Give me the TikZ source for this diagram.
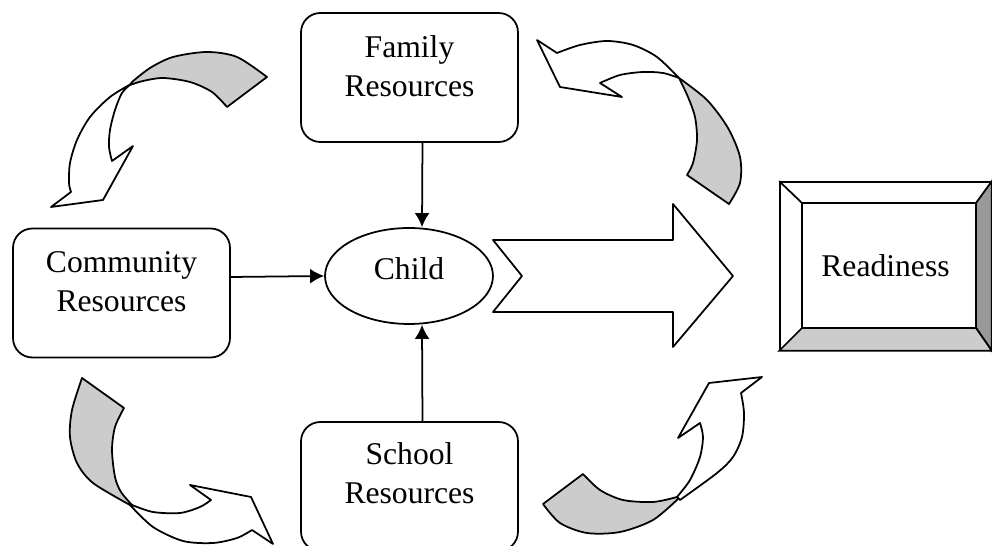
\documentclass[tikz,border=0pt]{standalone}
\usepackage{fontspec}
\setmainfont{Liberation Serif}
\usetikzlibrary{shapes, arrows.meta}

\begin{document}
\begin{tikzpicture}[x=0.02cm, y=-0.02cm,
  resbox/.style={draw, line width=1pt, rounded corners=11pt, minimum width=4.34cm, minimum height=2.58cm},
  restext/.style={align=center, inner sep=0pt, font=\fontsize{18}{22}\selectfont},
  link/.style={->, line width=1pt, >={Latex[length=8pt,width=8.5pt]}},
  turn/.style={draw, line width=1pt, line join=round, fill=white},
  band/.style={turn, fill=black!20}]
\useasboundingbox (0,0) rectangle (992,546);
\node[resbox] (family) at (409.5,77.5) {};
\node[resbox] (community) at (121.5,293) {};
\node[resbox] (school) at (409.5,486.5) {};
\node[restext] (familytext) at (409.5,66) {Family\\Resources};
\node[restext] (communitytext) at (121.5,282) {Community\\Resources};
\node[restext] (schooltext) at (409.5,473) {School\\Resources};
\node[draw, ellipse, line width=1pt, inner sep=0pt, minimum width=3.36cm, minimum height=1.92cm, text depth=8.5pt, font=\fontsize{18}{22}\selectfont] (child) at (409,276) {Child};
\draw[link] ([xshift=0.26cm]family.south) -- ([xshift=0.26cm]child.north);
\draw[link] ([xshift=0.26cm]school.north) -- ([xshift=0.26cm]child.south);
\draw[link] ([yshift=0.32cm]community.east) -- (child.west);
% big notched arrow towards readiness
\draw[turn] (493,240) -- (673,240) -- (673,204) -- (733,276) -- (673,347) -- (673,312) -- (493,312) -- (522,276) -- cycle;
% readiness frame with bevel
\node[draw, line width=1pt, minimum width=4.22cm, minimum height=3.36cm, font=\fontsize{18}{22}\selectfont] (readiness) at (885.5,266) {Readiness};
\filldraw[line width=1pt, fill=black!40] (readiness.north east) -- (976,203) -- (976,328) -- (readiness.south east) -- cycle;
\filldraw[line width=1pt, fill=black!20] (readiness.south west) -- (802,328) -- (976,328) -- (readiness.south east) -- cycle;
\draw[line width=1pt] (802,203) rectangle (976,328);
\draw[line width=1pt] (readiness.north west) -- (802,203);
% Curved arrows:
\draw[turn] plot[smooth] coordinates {(131,84) (110,97) (90,117) (77,140) (70,163) (69,183) (71,192)} -- (51,207) -- (103,200) -- (133,146)
  -- plot[smooth] coordinates {(112,161) (109,147) (110,130) (115,110) (122,93) (131,84)} -- cycle;
\draw[band] plot[smooth] coordinates {(132,82) (150,68) (173,57) (207,52) (237,57) (267,77)}
  -- plot[smooth] coordinates {(227,107) (212,92) (190,82) (163,78) (143,81) (130,85)} -- cycle;
\draw[turn] plot[smooth] coordinates {(679,78) (657,57) (633,45) (607,41) (580,45) (557,53)} -- (537,40) -- (560,87) -- (622,97)
  -- plot[smooth] coordinates {(600,83) (620,75) (643,72) (663,73) (679,78)} -- cycle;
\draw[band] plot[smooth] coordinates {(679,78) (707,100) (728,128) (740,157) (740,183) (729,204)}
  -- plot[smooth] coordinates {(687,175) (693,163) (697,140) (695,117) (688,97) (679,78)} -- cycle;
\draw[band] plot[smooth] coordinates {(82,378) (72,410) (70,437) (77,463) (93,483) (130,505)}
  -- plot[smooth] coordinates {(132,505) (121,492) (115,477) (112,450) (115,427) (124,408)} -- cycle;
\draw[turn] plot[smooth] coordinates {(132,505) (153,512) (180,513) (200,507) (211,500)} -- (190,485) -- (251,497) -- (273,544)
  -- plot[smooth] coordinates {(252,530) (237,538) (213,543) (183,541) (153,527) (130,505)} -- cycle;
\draw[band] plot[smooth] coordinates {(543,504) (560,523) (587,533) (620,532) (653,520) (679,498)}
  -- plot[smooth] coordinates {(677,497) (653,502) (623,500) (600,490) (583,474)} -- cycle;
\draw[turn] plot[smooth] coordinates {(677,497) (690,480) (700,457) (703,437) (700,423)} -- (678,438) -- (709,383) -- (762,377)
  -- plot[smooth] coordinates {(741,393) (744,413) (742,437) (733,457) (717,473) (680,500)} -- cycle;
\end{tikzpicture}
\end{document}
